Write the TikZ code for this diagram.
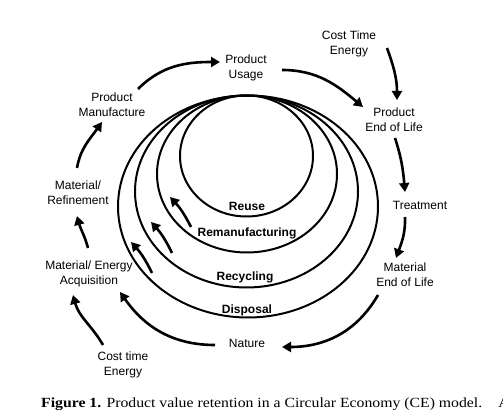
\documentclass[tikz,border=0pt]{standalone}
\usepackage{fontspec}
\setmainfont{Liberation Sans}
\newfontfamily\capfont[FakeStretch=1.125]{Liberation Serif}
\usetikzlibrary{arrows.meta,calc}
\begin{document}
\begin{tikzpicture}[x=1pt,y=1pt,
  lbl/.style={align=center,inner sep=0pt,font=\fontsize{12}{15}\selectfont},
  blbl/.style={inner sep=0pt,font=\fontsize{12}{15}\selectfont\bfseries},
  flow/.style={line width=2.6pt,-{Triangle[length=9pt,width=10pt]}},
  loop/.style={line width=2pt}]
\useasboundingbox (0,0) rectangle (503,420);
\clip (0,0) rectangle (503,420);
% loops
\draw[loop] (246.5,264) ellipse [x radius=66.5,y radius=60.5];
\draw[loop] (247,246) ellipse [x radius=90,y radius=78.5];
\draw[loop] (246.5,228.5) ellipse [x radius=111.5,y radius=96];
\draw[loop] (248,213.5) ellipse [x radius=130,y radius=111];
% labels
\node[lbl] (usage) at (246,352) {Product\\Usage};
\node[lbl] (manuf) at (112,315) {Product\\Manufacture};
\node[lbl] (refine) at (78,227) {Material/\\Refinement};
\node[lbl] (acq) at (89,146) {Material/ Energy\\Acquisition};
\node[lbl] (cte2) at (123,55) {Cost time\\Energy};
\node[lbl] (nature) at (247,77) {Nature};
\node[lbl] (meol) at (405,145) {Material\\End of Life};
\node[lbl] (treat) at (420,215) {Treatment};
\node[lbl] (peol) at (394,300) {Product\\End of Life};
\node[lbl] (cte1) at (349,376) {Cost Time\\Energy};
\node[blbl] (reuse) at (247,214) {Reuse};
\node[blbl] (reman) at (247,187) {Remanufacturing};
\node[blbl] (recyc) at (245,143) {Recycling};
\node[blbl] (disp) at (247,110) {Disposal};
% outer flow
\draw[flow] ($(manuf)+(26,16)$) to[out=45,in=180] ($(usage)+(-26,6)$);
\draw[flow] ($(usage)+(36,-2)$) to[out=0,in=140] ($(peol)+(-31,13)$);
\draw[flow] ($(cte1)+(38,-4)$) to[out=-70,in=90] ($(peol)+(3,20)$);
\draw[flow] ($(peol)+(1,-18)$) to[out=-72,in=95] ($(treat)+(-15,13)$);
\draw[flow] ($(treat)+(-15,-12)$) to[out=-88,in=70] ($(meol)+(-9,17)$);
\draw[flow] ($(meol)+(-27,-20)$) to[out=-120,in=0] ($(nature)+(35,-4)$);
\draw[flow] ($(nature)+(-32,-2)$) to[out=180,in=-55] ($(acq)+(31,-18)$);
\draw[flow] ($(cte2)+(-20,20)$) to[out=120,in=-75] ($(acq)+(-16,-21)$);
\draw[flow] ($(acq)+(-1,26)$) to[out=105,in=-75] ($(refine)+(-1,-23)$);
\draw[flow] ($(refine)+(-1,25)$) to[out=80,in=-125] ($(manuf)+(-10,-17)$);
% inner flow arrows
\coordinate (a1s) at (191,193); \coordinate (a1e) at (170,223);
\coordinate (a2s) at (172,167); \coordinate (a2e) at (151,198);
\coordinate (a3s) at (152,147); \coordinate (a3e) at (131,178);
\draw[flow] (a1s) to[bend right=8] (a1e);
\draw[flow] (a2s) to[bend right=8] (a2e);
\draw[flow] (a3s) to[bend right=8] (a3e);
% caption
\node[anchor=west,inner sep=0pt,font=\capfont\fontsize{14}{16}\selectfont] (cap) at (41,16) {\textbf{Figure 1.} Product value retention in a Circular Economy (CE) model.\hspace{16pt}A};
\end{tikzpicture}
\end{document}
